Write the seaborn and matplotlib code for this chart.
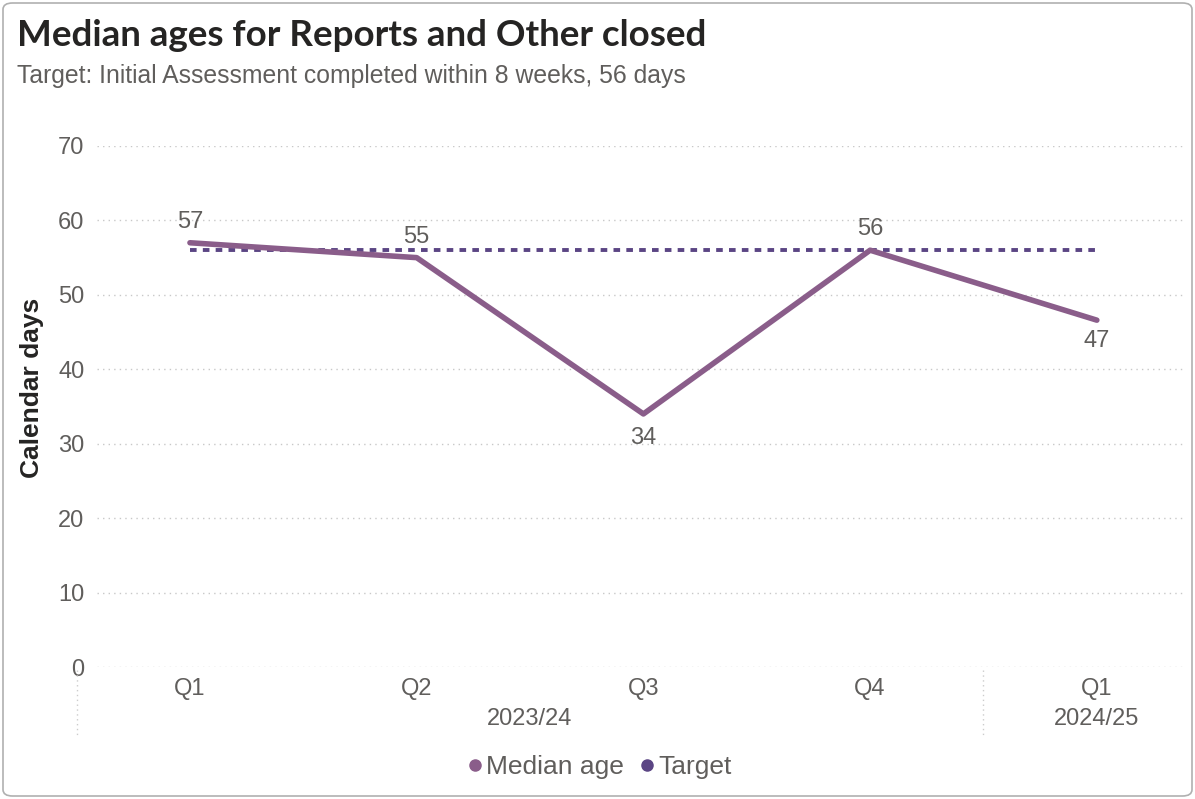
import matplotlib
matplotlib.use("Agg")
import matplotlib.pyplot as plt
import seaborn as sns
import pandas as pd
from matplotlib.patches import FancyBboxPatch
from matplotlib.lines import Line2D

quarters = ["Q1", "Q2", "Q3", "Q4", "Q1"]
years = ["2023/24", "2023/24", "2023/24", "2023/24", "2024/25"]
median_age = [57, 55, 34, 56, 46.6]
target = [56, 56, 56, 56, 56]
yticks = [0, 10, 20, 30, 40, 50, 60, 70]

sns.set_theme(style="white")
plt.rcParams['font.family'] = ['Liberation Sans', 'DejaVu Sans']

W, H = 1195, 799
fig = plt.figure(figsize=(W / 100, H / 100), dpi=100)
ax = fig.add_axes([97 / W, (H - 667) / H, (1183 - 97) / W, (667 - 146) / H])

df = pd.DataFrame({"pos": range(len(quarters)), "median": median_age, "target": target})

line_col = "#8A5D8A"
target_col = "#5B4584"
text_col = "#605E5C"

sns.lineplot(data=df, x="pos", y="target", ax=ax, color=target_col, linewidth=2.8,
             linestyle=(0, (1.7, 1.6)), zorder=2)
sns.lineplot(data=df, x="pos", y="median", ax=ax, color=line_col, linewidth=4.0,
             zorder=3, solid_capstyle="round")

ax.set_xlim(-0.41, 4.38)
ax.set_ylim(0, 70)
ax.set_yticks(yticks)
ax.set_yticklabels([str(t) for t in yticks], fontsize=17, color=text_col)
ax.tick_params(axis="y", length=0, pad=9)
ax.set_xticks(range(len(quarters)))
ax.set_xticklabels(quarters, fontsize=17, color=text_col)
ax.tick_params(axis="x", length=0, pad=8)
for s in ax.spines.values():
    s.set_visible(False)
ax.yaxis.grid(True, color="#C8C8C8", linestyle=(0, (1, 3)), linewidth=1)
ax.set_axisbelow(True)
ax.set_xlabel("")
ax.set_ylabel("")
fig.text(32 / W, (H - 388) / H, "Calendar days", rotation=90, fontsize=19, fontweight="bold",
         color="#252423", ha="center", va="center")

# data labels
offsets = [15, 15, -17, 15, -15]
for i, (v, o) in enumerate(zip(median_age, offsets)):
    ax.annotate(f"{v:.0f}", (i, v), xytext=(0, o), textcoords="offset points",
                ha="center", va="center", fontsize=17, color=text_col)

# year group labels
groups = {}
for i, y in enumerate(years):
    groups.setdefault(y, []).append(i)
for y, idx in groups.items():
    xc = (min(idx) + max(idx)) / 2
    ax.text(xc, -0.1, y, transform=ax.get_xaxis_transform(), ha="center", va="center",
            fontsize=17, color=text_col)

# separators
trans = ax.get_xaxis_transform()
for xs in [-0.5, 3.5]:
    ax.add_line(Line2D([xs, xs], [-0.005, -0.13], transform=trans, color="#CCCCCC",
                       linestyle=(0, (1, 2.5)), linewidth=1, clip_on=False))

# title
fig.text(17 / W, (H - 35) / H, "Median ages for Reports and Other closed", fontsize=26.5,
         fontweight="bold", color="#252423", va="center", ha="left", family=["Lato", "DejaVu Sans"])
fig.text(17 / W, (H - 76) / H, "Target: Initial Assessment completed within 8 weeks, 56 days",
         fontsize=17.8, color=text_col, va="center", ha="left")

# legend
handles = [Line2D([], [], marker="o", linestyle="", color=line_col, markersize=8),
           Line2D([], [], marker="o", linestyle="", color=target_col, markersize=8)]
fig.legend(handles, ["Median age", "Target"], loc="center", bbox_to_anchor=(598 / W, (H - 767) / H),
           ncol=2, frameon=False, fontsize=19, handletextpad=0.0, columnspacing=0.5,
           labelcolor=text_col, handlelength=0.8)

# border
fig.patches.append(FancyBboxPatch((3 / W, 3 / H), (W - 6) / W, (H - 6) / H,
                                  boxstyle="round,pad=0,rounding_size=0.008",
                                  transform=fig.transFigure, fill=False,
                                  edgecolor="#B0B0B0", linewidth=1.2))

fig.savefig("out.png", dpi=100)
